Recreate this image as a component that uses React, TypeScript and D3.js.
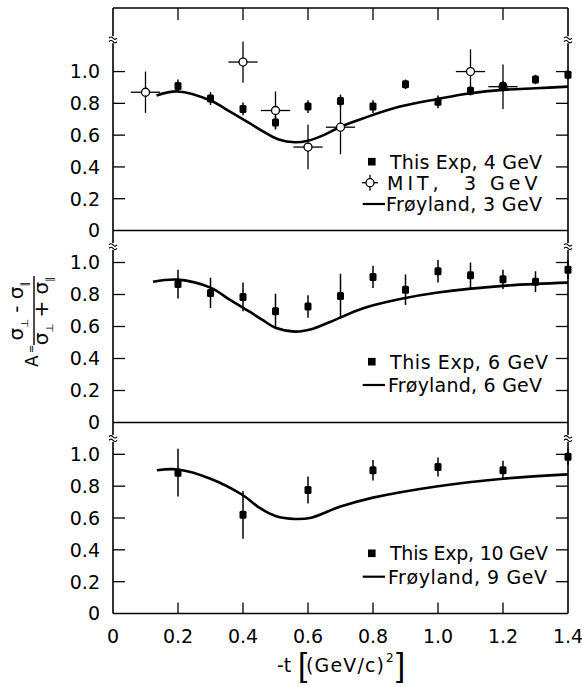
import React from "react";
import * as d3 from "d3";

// x axis
const xTicks = [0, 0.2, 0.4, 0.6, 0.8, 1.0, 1.2, 1.4];
const yTicks = [0, 0.2, 0.4, 0.6, 0.8, 1.0];

// panel 1 : 4 GeV
const exp4T = [0.2, 0.3, 0.4, 0.5, 0.6, 0.7, 0.8, 0.9, 1.0, 1.1, 1.2, 1.3, 1.4];
const exp4A = [0.91, 0.83, 0.765, 0.68, 0.78, 0.815, 0.78, 0.92, 0.81, 0.88, 0.91, 0.95, 0.98];
const exp4Err = [0.04, 0.04, 0.04, 0.04, 0.04, 0.04, 0.04, 0.03, 0.04, 0.03, 0.03, 0.03, 0.03];
const mitT = [0.1, 0.4, 0.5, 0.6, 0.7, 1.1, 1.2];
const mitA = [0.87, 1.06, 0.755, 0.525, 0.65, 1.0, 0.905];
const mitErrA = [0.13, 0.13, 0.12, 0.14, 0.17, 0.14, 0.14];
const mitErrT = [0.045, 0.045, 0.045, 0.045, 0.045, 0.045, 0.045];
const fro3T = [0.134, 0.2, 0.3, 0.36, 0.42, 0.46, 0.51, 0.56, 0.6, 0.65, 0.7, 0.77, 0.88, 1.0, 1.1, 1.2, 1.3, 1.4];
const fro3A = [0.85, 0.875, 0.818, 0.748, 0.675, 0.625, 0.572, 0.555, 0.565, 0.602, 0.653, 0.706, 0.778, 0.828, 0.864, 0.885, 0.895, 0.905];

// panel 2 : 6 GeV
const exp6T = [0.2, 0.3, 0.4, 0.5, 0.6, 0.7, 0.8, 0.9, 1.0, 1.1, 1.2, 1.3, 1.4];
const exp6A = [0.865, 0.81, 0.785, 0.695, 0.725, 0.79, 0.91, 0.83, 0.945, 0.92, 0.895, 0.88, 0.955];
const exp6Err = [0.09, 0.095, 0.09, 0.11, 0.07, 0.14, 0.07, 0.095, 0.07, 0.08, 0.06, 0.065, 0.06];
const fro6T = [0.123, 0.2, 0.3, 0.36, 0.42, 0.46, 0.5, 0.56, 0.61, 0.67, 0.77, 0.88, 1.0, 1.2, 1.4];
const fro6A = [0.88, 0.893, 0.843, 0.766, 0.693, 0.641, 0.592, 0.568, 0.583, 0.63, 0.714, 0.77, 0.812, 0.854, 0.874];

// panel 3 : 10 GeV
const exp10T = [0.2, 0.4, 0.6, 0.8, 1.0, 1.2, 1.4];
const exp10A = [0.885, 0.62, 0.776, 0.9, 0.92, 0.9, 0.985];
const exp10Err = [0.15, 0.15, 0.085, 0.065, 0.06, 0.06, 0.05];
const fro9T = [0.135, 0.2, 0.3, 0.4, 0.45, 0.5, 0.56, 0.61, 0.7, 0.8, 1.0, 1.2, 1.4];
const fro9A = [0.9, 0.905, 0.847, 0.743, 0.665, 0.613, 0.594, 0.602, 0.672, 0.728, 0.8, 0.847, 0.874];

const legendExp = ["This Exp, 4 GeV", "This Exp, 6 GeV", "This Exp, 10 GeV"];
const legendMit = ["MIT,", "3", "GeV"];
const legendFro = ["Frøyland, 3 GeV", "Frøyland, 6 GeV", "Frøyland,  9 GeV"];

const FONT = "DejaVu Sans, sans-serif";
const XL = 113;
const XR = 568;

const x = d3.scaleLinear().domain([0, 1.4]).range([XL, XR]);

const zip = (ts: number[], as: number[]) => ts.map((t, i) => ({ t, a: as[i] }));

const panels = [
  {
    top: 8, bottom: 230.5, yMax: 1.4, breakAt: 1.2,
    exp: zip(exp4T, exp4A).map((d, i) => ({ ...d, e: exp4Err[i] })),
    mit: zip(mitT, mitA).map((d, i) => ({ ...d, e: mitErrA[i], et: mitErrT[i] })),
    curve: zip(fro3T, fro3A),
    legend: {
      rows: [161.7, 182.7, 204],
      exp: legendExp[0], expX: 390, expLen: 152,
      fro: legendFro[0], froX: 386, froLen: 156,
    },
  },
  {
    top: 230.5, bottom: 422.5, yMax: 1.2, breakAt: 1.1,
    exp: zip(exp6T, exp6A).map((d, i) => ({ ...d, e: exp6Err[i] })),
    mit: [] as { t: number; a: number; e: number; et: number }[],
    curve: zip(fro6T, fro6A),
    legend: {
      rows: [361.7, 385],
      exp: legendExp[1], expX: 390, expLen: 158,
      fro: legendFro[1], froX: 388, froLen: 154,
    },
  },
  {
    top: 422.5, bottom: 613.5, yMax: 1.2, breakAt: 1.1,
    exp: zip(exp10T, exp10A).map((d, i) => ({ ...d, e: exp10Err[i] })),
    mit: [] as { t: number; a: number; e: number; et: number }[],
    curve: zip(fro9T, fro9A),
    legend: {
      rows: [553.3, 576.7],
      exp: legendExp[2], expX: 390, expLen: 158,
      fro: legendFro[2], froX: 388, froLen: 159,
    },
  },
];

const fmt = (v: number) => (v === 0 ? "0" : d3.format(".1f")(v));

// small "≈" break mark across a vertical axis
const BreakMark = ({ cx, cy }: { cx: number; cy: number }) => (
  <g fill="none" stroke="#000" strokeWidth={1.1}>
    <rect x={cx - 4} y={cy - 3.5} width={8} height={7} fill="#fff" stroke="none" />
    <path d={`M${cx - 4},${cy - 1.6} q2,-2.4 4,0 t4,0`} />
    <path d={`M${cx - 4},${cy + 1.9} q2,-2.4 4,0 t4,0`} />
  </g>
);

const Panel = ({ p }: { p: (typeof panels)[number] }) => {
  const y = d3.scaleLinear().domain([0, p.yMax]).range([p.bottom, p.top]);
  const lineGen = d3
    .line<{ t: number; a: number }>()
    .x((d) => x(d.t))
    .y((d) => y(d.a))
    .curve(d3.curveCatmullRom.alpha(0.5));
  const lg = p.legend;
  const mitRow = p.mit.length > 0;
  const froRow = mitRow ? lg.rows[2] : lg.rows[1];
  return (
    <g>
      {/* y ticks and labels */}
      {yTicks.map((v) => (
        <g key={v}>
          {v > 0 && (
            <>
              <line x1={XL} x2={XL + 12} y1={y(v)} y2={y(v)} stroke="#000" strokeWidth={1.3} />
              <line x1={XR} x2={XR - 12} y1={y(v)} y2={y(v)} stroke="#000" strokeWidth={1.3} />
            </>
          )}
          <text x={100} y={y(v)} dy="0.36em" textAnchor="end" fontSize={19} fontFamily={FONT}>
            {fmt(v)}
          </text>
        </g>
      ))}
      <BreakMark cx={XL} cy={y(p.breakAt)} />
      <BreakMark cx={XR} cy={y(p.breakAt)} />

      {/* theory curve */}
      <path d={lineGen(p.curve) ?? ""} fill="none" stroke="#000" strokeWidth={2.6} />

      {/* MIT points */}
      {p.mit.map((d, i) => (
        <g key={"m" + i} stroke="#000" strokeWidth={1.3}>
          <line x1={x(d.t)} x2={x(d.t)} y1={y(d.a - d.e)} y2={y(d.a + d.e)} />
          <line x1={x(d.t - d.et)} x2={x(d.t + d.et)} y1={y(d.a)} y2={y(d.a)} />
          <circle cx={x(d.t)} cy={y(d.a)} r={4} fill="#fff" />
        </g>
      ))}

      {/* this experiment */}
      {p.exp.map((d, i) => (
        <g key={"e" + i}>
          <line x1={x(d.t)} x2={x(d.t)} y1={y(d.a - d.e)} y2={y(d.a + d.e)} stroke="#000" strokeWidth={1.5} />
          <rect x={x(d.t) - 3.5} y={y(d.a) - 4} width={7} height={8} rx={1.5} fill="#000" />
        </g>
      ))}

      {/* legend */}
      <g fontFamily={FONT} fontSize={19}>
        <rect x={368} y={lg.rows[0] - 3.8} width={7.6} height={7.6} fill="#000" />
        <text x={lg.expX} y={lg.rows[0]} dy="0.36em" textLength={lg.expLen} lengthAdjust="spacing">
          {lg.exp}
        </text>
        {mitRow && (
          <g>
            <g stroke="#000" strokeWidth={1.3}>
              <line x1={362} x2={378} y1={lg.rows[1]} y2={lg.rows[1]} />
              <line x1={370} x2={370} y1={lg.rows[1] - 8} y2={lg.rows[1] + 8} />
              <circle cx={370} cy={lg.rows[1]} r={4} fill="#fff" />
            </g>
            <text y={lg.rows[1]} dy="0.36em" letterSpacing={4}>
              <tspan x={387}>{legendMit[0]}</tspan>
              <tspan x={464}>{legendMit[1]}</tspan>
              <tspan x={490}>{legendMit[2]}</tspan>
            </text>
          </g>
        )}
        <line x1={362.7} x2={385} y1={froRow} y2={froRow} stroke="#000" strokeWidth={2.2} />
        <text x={lg.froX} y={froRow} dy="0.36em" textLength={lg.froLen} lengthAdjust="spacing">
          {lg.fro}
        </text>
      </g>
    </g>
  );
};

export default function App() {
  const top = panels[0].top;
  const bottom = panels[2].bottom;
  const gaps = panels.map((p) =>
    d3.scaleLinear().domain([0, p.yMax]).range([p.bottom, p.top])(p.breakAt)
  );
  // vertical axis pieces, interrupted at the breaks
  const segs: [number, number][] = [];
  let start = top;
  gaps.forEach((g) => {
    segs.push([start, g - 3]);
    start = g + 3;
  });
  segs.push([start, bottom]);

  return (
    <svg
      width={582}
      height={687}
      style={{ position: "absolute", left: 0, top: 0, background: "#fff" }}
    >
      <rect width={582} height={687} fill="#fff" />

      {/* frame */}
      <g stroke="#000" strokeWidth={1.6}>
        {segs.map(([a, b], i) => (
          <g key={i}>
            <line x1={XL} x2={XL} y1={a} y2={b} />
            <line x1={XR} x2={XR} y1={a} y2={b} />
          </g>
        ))}
        {[top, panels[0].bottom, panels[1].bottom, bottom].map((yy, i) => (
          <line key={i} x1={XL} x2={XR} y1={yy} y2={yy} />
        ))}
        {xTicks.filter((v) => v > 0 && v < 1.4).map((v) => (
          <g key={v}>
            <line x1={x(v)} x2={x(v)} y1={top} y2={top + 12} strokeWidth={1.3} />
            <line x1={x(v)} x2={x(v)} y1={bottom} y2={bottom - 11} strokeWidth={1.3} />
          </g>
        ))}
      </g>

      {panels.map((p, i) => (
        <Panel key={i} p={p} />
      ))}

      {/* x tick labels */}
      {xTicks.map((v) => (
        <text key={v} x={x(v)} y={636} dy="0.36em" textAnchor="middle" fontSize={19} fontFamily={FONT}>
          {fmt(v)}
        </text>
      ))}

      {/* x title */}
      <g fontFamily={FONT}>
        <text x={277} y={672} fontSize={19}>-t</text>
        <text x={298} y={676} fontSize={33} fontFamily="Liberation Sans, sans-serif">[</text>
        <text x={306} y={672} fontSize={19} textLength={78} lengthAdjust="spacing">(GeV/c)</text>
        <text x={386} y={662} fontSize={12}>2</text>
        <text x={396} y={676} fontSize={33} fontFamily="Liberation Sans, sans-serif">]</text>
      </g>

      {/* y title, rotated */}
      <g transform="rotate(-90)" fontFamily={FONT}>
        <text x={-367} y={38} fontSize={17}>A</text>
        <text x={-353} y={35} fontSize={10}>=</text>
        <line x1={-345} x2={-276} y1={34} y2={34} stroke="#000" strokeWidth={1.4} />
        <text x={-311} y={23} textAnchor="middle" fontSize={20}>
          σ<tspan fontSize={10} dy={5}>⊥</tspan>
          <tspan dy={-5}> - </tspan>σ<tspan fontSize={10} dy={5}>∥</tspan>
        </text>
        <text x={-311} y={48} textAnchor="middle" fontSize={20}>
          σ<tspan fontSize={10} dy={5}>⊥</tspan>
          <tspan dy={-5}> + </tspan>σ<tspan fontSize={10} dy={5}>∥</tspan>
        </text>
      </g>
    </svg>
  );
}
